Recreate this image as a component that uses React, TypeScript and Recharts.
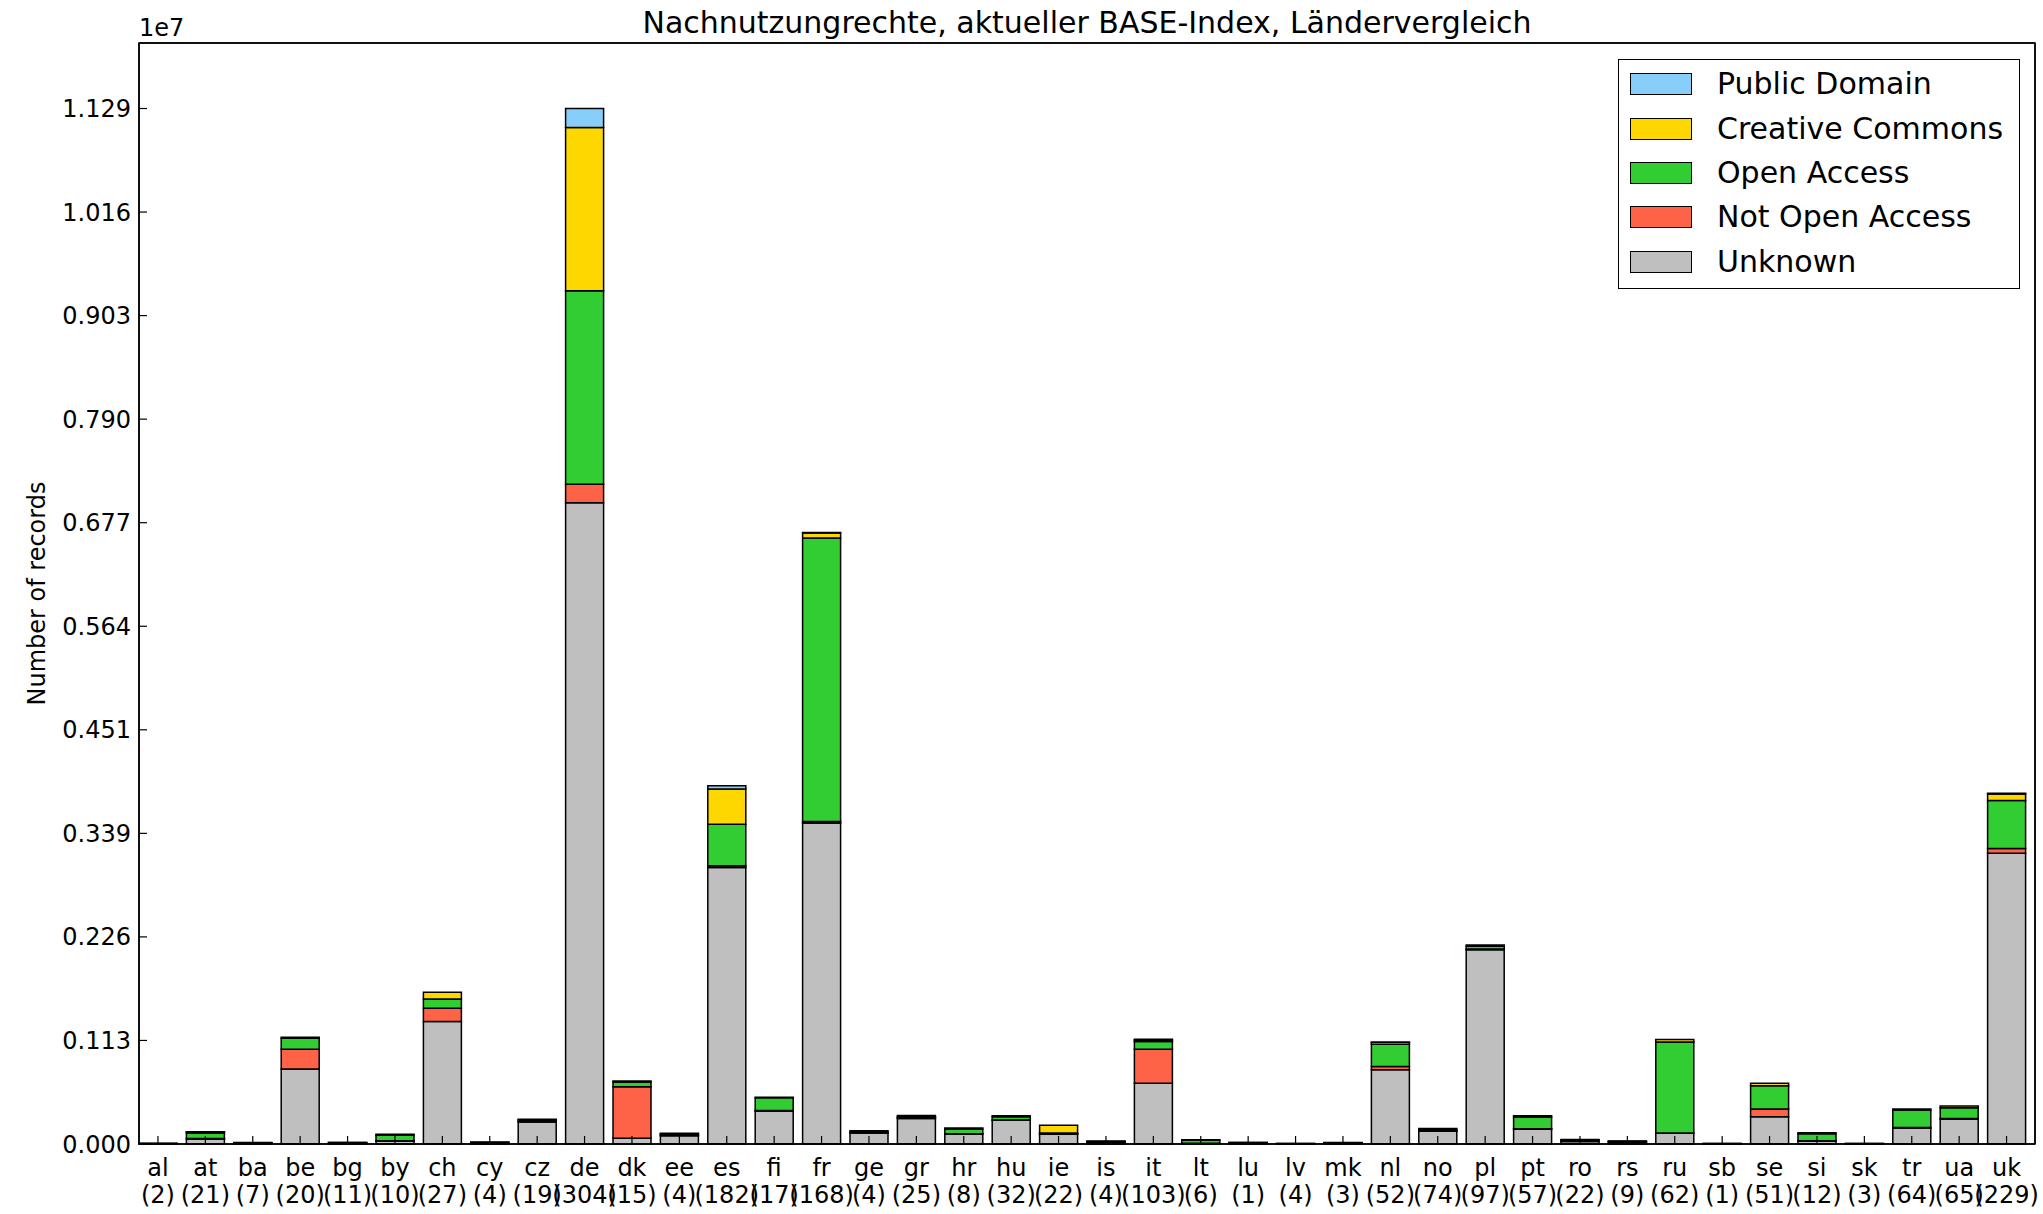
import { BarChart, Bar, XAxis, YAxis } from "recharts"

// BASE-Index records per country, split by re-use rights
const countries = [
  "al", "at", "ba", "be", "bg", "by", "ch", "cy", "cz", "de",
  "dk", "ee", "es", "fi", "fr", "ge", "gr", "hr", "hu", "ie",
  "is", "it", "lt", "lu", "lv", "mk", "nl", "no", "pl", "pt",
  "ro", "rs", "ru", "sb", "se", "si", "sk", "tr", "ua", "uk",
]
const repoCounts = [
  2, 21, 7, 20, 11, 10, 27, 4, 19, 304,
  15, 4, 182, 17, 168, 4, 25, 8, 32, 22,
  4, 103, 6, 1, 4, 3, 52, 74, 97, 57,
  22, 9, 62, 1, 51, 12, 3, 64, 65, 229,
]
const unknownRecords = [
  6000, 55000, 10000, 818000, 10000, 33000, 1334000, 12000, 240000, 6990000,
  62000, 90000, 3013000, 360000, 3500000, 120000, 278000, 110000, 258000, 105000,
  20000, 662000, 5000, 12000, 4000, 10000, 810000, 138000, 2116000, 162000,
  28000, 20000, 117000, 4000, 298000, 33000, 4000, 175000, 272000, 3170000,
]
const notOpenAccess = [
  0, 4000, 2000, 215000, 2000, 3000, 146000, 3000, 8000, 200000,
  563000, 8000, 19000, 4000, 15000, 2000, 5000, 3000, 3000, 5000,
  3000, 371000, 2000, 2000, 1000, 2000, 36000, 5000, 10000, 4000,
  5000, 3000, 3000, 1000, 84000, 2000, 1000, 5000, 5000, 50000,
]
const openAccess = [
  2000, 62000, 2000, 120000, 3000, 62000, 100000, 3000, 16000, 2110000,
  50000, 14000, 454000, 140000, 3090000, 10000, 15000, 50000, 36000, 10000,
  5000, 83000, 36000, 2000, 1000, 2000, 240000, 15000, 30000, 128000,
  10000, 8000, 992000, 1000, 254000, 77000, 1000, 190000, 117000, 524000,
]
const creativeCommons = [
  0, 11000, 1000, 10000, 1000, 8000, 74000, 2000, 5000, 1780000,
  12000, 6000, 382000, 5000, 55000, 12000, 13000, 11000, 12000, 85000,
  4000, 17000, 4000, 1000, 0, 1000, 22000, 12000, 14000, 15000,
  7000, 3000, 28000, 0, 26000, 10000, 0, 12000, 20000, 70000,
]
const publicDomain = [
  0, 2000, 0, 0, 0, 0, 0, 0, 0, 206000,
  0, 0, 36000, 0, 5000, 0, 0, 0, 0, 0,
  0, 9000, 0, 0, 0, 0, 2000, 0, 0, 0,
  0, 0, 0, 0, 0, 0, 0, 0, 0, 10000,
]
const yTicks = [
  0, 1128600, 2257200, 3385800, 4514400, 5643000,
  6771600, 7900200, 9028800, 10157400, 11286000,
]

const series = [
  { key: "unknown", name: "Unknown", color: "#bfbfbf", values: unknownRecords },
  { key: "noa", name: "Not Open Access", color: "#ff6347", values: notOpenAccess },
  { key: "oa", name: "Open Access", color: "#32cd32", values: openAccess },
  { key: "cc", name: "Creative Commons", color: "#ffd700", values: creativeCommons },
  { key: "pd", name: "Public Domain", color: "#87cefa", values: publicDomain },
]

const chartData = countries.map((country, i) => {
  const row: Record<string, string | number> = { country, repos: repoCounts[i] }
  series.forEach((s) => {
    row[s.key] = s.values[i]
  })
  return row
})

const W = 2043
const H = 1214
const PLOT_LEFT = 139
const PLOT_TOP = 43
const PLOT_RIGHT = 2035
const PLOT_BOTTOM = 1144
const FONT = "'DejaVu Sans', sans-serif"

// matplotlib puts the bars at 0.4 units from the left edge, 0.6 from the right
const unit = (PLOT_RIGHT - PLOT_LEFT) / countries.length
const xPad = { left: -0.1 * unit, right: 0.1 * unit }

const CountryTick = (props: any) => {
  const { x, payload, index } = props
  return (
    <g>
      <text x={x} y={PLOT_BOTTOM + 32} textAnchor="middle" fontSize={24} fill="#000">
        {payload.value}
      </text>
      <text x={x} y={PLOT_BOTTOM + 59} textAnchor="middle" fontSize={24} fill="#000">
        ({repoCounts[index]})
      </text>
    </g>
  )
}

const axisLine = { stroke: "#000", strokeWidth: 1.5 }
const tickLine = { stroke: "#000", strokeWidth: 1.2 }

export default function App() {
  const midY = (PLOT_TOP + PLOT_BOTTOM) / 2
  return (
    <div style={{ position: "relative", width: W, height: H, fontFamily: FONT, background: "#fff" }}>
      <style>{"body{margin:0}"}</style>
      <BarChart
        width={W}
        height={H}
        data={chartData}
        margin={{ top: PLOT_TOP - 1, right: W - PLOT_RIGHT - 1, bottom: 0, left: 0 }}
        barCategoryGap="10%"
      >
        <XAxis
          xAxisId="bottom"
          dataKey="country"
          height={H - PLOT_BOTTOM}
          padding={xPad}
          axisLine={axisLine}
          tickLine={tickLine}
          tickSize={-8}
          interval={0}
          tick={<CountryTick />}
        />
        <XAxis
          xAxisId="top"
          dataKey="country"
          orientation="top"
          height={1}
          padding={xPad}
          axisLine={axisLine}
          tickLine={tickLine}
          tickSize={-8}
          interval={0}
          tick={false}
        />
        <YAxis
          yAxisId="left"
          width={PLOT_LEFT}
          domain={[0, 12000000]}
          ticks={yTicks}
          interval={0}
          axisLine={axisLine}
          tickLine={tickLine}
          tickSize={-8}
          tickMargin={16}
          tick={{ fill: "#000", fontSize: 24 }}
          tickFormatter={(v: number) => (v / 1e7).toFixed(3)}
        />
        <YAxis
          yAxisId="right"
          orientation="right"
          width={1}
          domain={[0, 12000000]}
          ticks={yTicks}
          interval={0}
          axisLine={axisLine}
          tickLine={tickLine}
          tickSize={-8}
          tick={false}
        />
        {series.map((s) => (
          <Bar
            key={s.key}
            dataKey={s.key}
            name={s.name}
            stackId="rights"
            xAxisId="bottom"
            yAxisId="left"
            fill={s.color}
            stroke="#000"
            strokeWidth={1.5}
            isAnimationActive={false}
          />
        ))}
      </BarChart>

      <svg
        width={W}
        height={H}
        style={{ position: "absolute", left: 0, top: 0, pointerEvents: "none" }}
      >
        <rect
          x={PLOT_LEFT}
          y={PLOT_TOP}
          width={PLOT_RIGHT - PLOT_LEFT}
          height={PLOT_BOTTOM - PLOT_TOP}
          fill="none"
          stroke="#000"
          strokeWidth={1.5}
        />
        <text x={(PLOT_LEFT + PLOT_RIGHT) / 2} y={33} textAnchor="middle" fontSize={30} fill="#000">
          Nachnutzungrechte, aktueller BASE-Index, Ländervergleich
        </text>
        <text x={PLOT_LEFT} y={36} fontSize={24} fill="#000">
          1e7
        </text>
        <text
          x={45}
          y={midY}
          textAnchor="middle"
          fontSize={24}
          fill="#000"
          transform={`rotate(-90 45 ${midY})`}
        >
          Number of records
        </text>
      </svg>

      <div
        style={{
          position: "absolute",
          left: 1618,
          top: 59,
          width: 402,
          height: 230,
          boxSizing: "border-box",
          border: "1.5px solid #000",
          background: "#fff",
          paddingTop: 2,
        }}
      >
        {[...series].reverse().map((s) => (
          <div key={s.key} style={{ display: "flex", alignItems: "center", height: 44.35 }}>
            <div
              style={{
                marginLeft: 11,
                width: 62,
                height: 22,
                boxSizing: "border-box",
                background: s.color,
                border: "1.5px solid #000",
              }}
            />
            <span style={{ marginLeft: 25, fontSize: 30, lineHeight: "30px", color: "#000" }}>{s.name}</span>
          </div>
        ))}
      </div>
    </div>
  )
}
